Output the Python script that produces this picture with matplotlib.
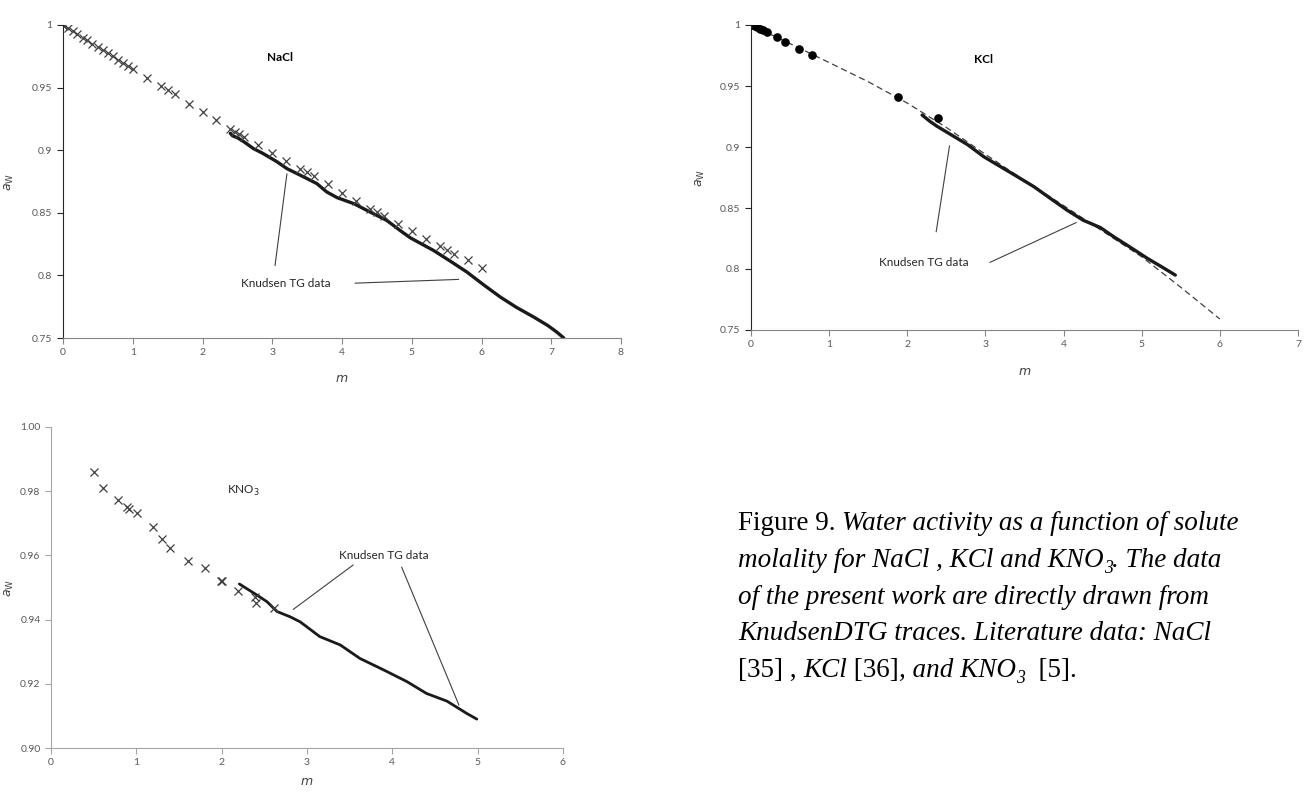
import numpy as np
import matplotlib
matplotlib.use('Agg')
import matplotlib.pyplot as plt
from matplotlib.ticker import FuncFormatter, MultipleLocator

# NaCl - literature (crosses) and Knudsen TG data
nacl_lit_m = [0.0, 0.005, 0.01, 0.07, 0.14, 0.2, 0.28, 0.35, 0.42, 0.5, 0.57, 0.64, 0.71,
              0.79, 0.86, 0.93, 1.0, 1.2, 1.4, 1.5, 1.6, 1.8, 2.0, 2.2, 2.4, 2.47, 2.53,
              2.6, 2.8, 3.0, 3.2, 3.4, 3.5, 3.6, 3.8, 4.0, 4.2, 4.4, 4.5, 4.6, 4.8, 5.0,
              5.2, 5.4, 5.5, 5.6, 5.8, 6.0]
nacl_lit_aw = [1.0, 0.9998, 0.9996, 0.9975, 0.995, 0.993, 0.990, 0.9877, 0.9852, 0.9824,
               0.980, 0.9775, 0.975, 0.9722, 0.9697, 0.9673, 0.9648, 0.9573, 0.9512,
               0.948, 0.9445, 0.9373, 0.9307, 0.924, 0.9173, 0.9147, 0.9126, 0.9107,
               0.904, 0.8979, 0.891, 0.8853, 0.8827, 0.8795, 0.8728, 0.8661, 0.8595,
               0.8533, 0.8507, 0.8475, 0.8413, 0.8355, 0.8293, 0.8232, 0.8205, 0.8173,
               0.812, 0.8058]
nacl_tg_m = [2.40, 2.43, 2.50, 2.60, 2.73, 2.87, 3.07, 3.21, 3.45, 3.64, 3.78, 3.93, 4.17,
             4.40, 4.64, 4.83, 4.98, 5.31, 5.55, 5.79, 6.03, 6.27, 6.50, 6.75, 6.95,
             7.08, 7.18]
nacl_tg_aw = [0.9135, 0.9115, 0.9100, 0.9065, 0.9013, 0.8973, 0.8907, 0.8853, 0.8787,
              0.8733, 0.8667, 0.8621, 0.8573, 0.8507, 0.8440, 0.8360, 0.8300, 0.8200,
              0.8115, 0.8027, 0.7925, 0.7827, 0.7745, 0.7667, 0.7600, 0.7547, 0.7500]

# KCl - literature (dots), fit (dashed) and Knudsen TG data
kcl_lit_m = [0.017, 0.05, 0.08, 0.115, 0.15, 0.2, 0.33, 0.436, 0.61, 0.786, 1.876, 2.39]
kcl_lit_aw = [1.0, 0.9992, 0.9981, 0.997, 0.9959, 0.994, 0.9902, 0.9863, 0.9806, 0.9754,
              0.9407, 0.9238]
kcl_fit_m = [0.0, 0.5, 1.0, 1.5, 2.0, 2.5, 3.0, 3.5, 4.0, 4.5, 5.0, 5.5, 6.0]
kcl_fit_aw = [1.0, 0.9847, 0.9692, 0.9535, 0.9360, 0.9160, 0.8940, 0.8726, 0.8520,
              0.8310, 0.8100, 0.7850, 0.7590]
kcl_tg_m = [2.19, 2.29, 2.38, 2.51, 2.64, 2.77, 2.98, 3.19, 3.40, 3.62, 3.85, 4.05, 4.25,
            4.47, 4.64, 4.85, 5.07, 5.25, 5.43]
kcl_tg_aw = [0.9262, 0.9210, 0.9170, 0.9120, 0.9070, 0.9020, 0.8920, 0.8840, 0.8760,
             0.8675, 0.8570, 0.8480, 0.8400, 0.8340, 0.8265, 0.8180, 0.8088, 0.8020,
             0.7950]

# KNO3 - literature (crosses) and Knudsen TG data
kno3_lit_m = [0.504, 0.606, 0.79, 0.887, 0.918, 1.004, 1.2, 1.30, 1.395, 1.61, 1.80, 1.99,
              2.0, 2.19, 2.39, 2.40, 2.61]
kno3_lit_aw = [0.9861, 0.9811, 0.9773, 0.9752, 0.9744, 0.9731, 0.9689, 0.9651, 0.9622,
               0.9582, 0.9562, 0.9521, 0.9520, 0.9490, 0.9471, 0.9451, 0.9435]
kno3_tg_m = [2.207, 2.41, 2.53, 2.65, 2.80, 2.92, 3.15, 3.39, 3.62, 3.90, 4.17, 4.40, 4.64,
             4.87, 4.99]
kno3_tg_aw = [0.9511, 0.9477, 0.9456, 0.9425, 0.9409, 0.9393, 0.9347, 0.9321, 0.9279,
              0.9243, 0.9207, 0.9170, 0.9146, 0.9108, 0.9090]

plt.rcParams['font.family'] = ['Lato', 'DejaVu Sans']

fig = plt.figure(figsize=(13.11, 7.99), dpi=100)
W, H = 1311.0, 799.0


def px_axes(l, t, r, b):
    return fig.add_axes([l / W, 1 - b / H, (r - l) / W, (b - t) / H])


def style_axes(ax, yspine, xspine):
    for s in ['top', 'right']:
        ax.spines[s].set_visible(False)
    ax.spines['left'].set_color(yspine)
    ax.spines['bottom'].set_color(xspine)
    ax.tick_params(axis='both', direction='out', length=4, width=0.8,
                   labelsize=7.5, labelcolor='#595959', color='#868686')
    ax.tick_params(axis='y', color=yspine)
    ax.xaxis.set_major_locator(MultipleLocator(1))
    ax.xaxis.set_major_formatter(FuncFormatter(lambda v, p: '%g' % v))


lab_kw = dict(fontsize=8.5, color='#262626', ha='center', va='center')
line_kw = dict(color='#404040', lw=0.8)

# ---- NaCl ----
ax1 = px_axes(63, 25, 621, 338)
style_axes(ax1, '#262626', '#868686')
ax1.plot(nacl_tg_m, nacl_tg_aw, color='#1a1a1a', lw=2.4, solid_capstyle='round')
ax1.plot(nacl_lit_m, nacl_lit_aw, 'x', color='#404040', ms=5.5, mew=0.9)
ax1.set_xlim(0, 8)
ax1.set_ylim(0.75, 1.0)
ax1.yaxis.set_major_locator(MultipleLocator(0.05))
ax1.yaxis.set_major_formatter(FuncFormatter(lambda v, p: '%g' % round(v, 2)))
ax1.text(3.11, 0.9744, 'NaCl', fontsize=8.5, fontweight='bold', ha='center', va='center')
ax1.text(3.2, 0.7936, 'Knudsen TG data', **lab_kw)
ax1.plot([3.04, 3.21], [0.808, 0.881], **line_kw)
ax1.plot([4.19, 5.67], [0.7938, 0.7968], **line_kw)
ax1.set_xlabel('$m$', fontsize=9, color='#404040')
ax1.set_ylabel(r'$a_{\mathrm{W}}$', fontsize=9, color='#404040')
ax1.xaxis.set_label_coords(0.5, -0.11)
ax1.yaxis.set_label_coords(-0.084, 0.5)

# ---- KCl ----
ax2 = px_axes(751, 25, 1298, 330)
style_axes(ax2, '#262626', '#868686')
ax2.plot(kcl_fit_m, kcl_fit_aw, color='#404040', lw=0.9, dashes=(5, 3))
ax2.plot(kcl_tg_m, kcl_tg_aw, color='#1a1a1a', lw=2.4, solid_capstyle='round')
ax2.plot(kcl_lit_m, kcl_lit_aw, 'o', color='black', ms=5.2)
ax2.set_xlim(0, 7)
ax2.set_ylim(0.75, 1.0)
ax2.yaxis.set_major_locator(MultipleLocator(0.05))
ax2.yaxis.set_major_formatter(FuncFormatter(lambda v, p: '%g' % round(v, 2)))
ax2.text(2.98, 0.9721, 'KCl', fontsize=8.5, fontweight='bold', ha='center', va='center')
ax2.text(2.21, 0.8057, 'Knudsen TG data', **lab_kw)
ax2.plot([2.37, 2.54], [0.8306, 0.9008], **line_kw)
ax2.plot([3.06, 4.16], [0.8055, 0.838], **line_kw)
ax2.set_xlabel('$m$', fontsize=9, color='#404040')
ax2.set_ylabel(r'$a_{\mathrm{W}}$', fontsize=9, color='#404040')
ax2.xaxis.set_label_coords(0.5, -0.115)
ax2.yaxis.set_label_coords(-0.08, 0.5)

# ---- KNO3 ----
ax3 = px_axes(51, 427, 563, 748)
style_axes(ax3, '#a6a6a6', '#a6a6a6')
ax3.tick_params(axis='both', color='#a6a6a6')
ax3.plot(kno3_tg_m, kno3_tg_aw, color='#1a1a1a', lw=2.0, solid_capstyle='round')
ax3.plot(kno3_lit_m, kno3_lit_aw, 'x', color='#404040', ms=5.5, mew=0.9)
ax3.set_xlim(0, 6)
ax3.set_ylim(0.90, 1.00)
ax3.yaxis.set_major_locator(MultipleLocator(0.02))
ax3.yaxis.set_major_formatter(FuncFormatter(lambda v, p: '%.2f' % v))
ax3.text(2.25, 0.9802, 'KNO$_3$', fontsize=8.5, color='#262626', ha='center', va='center')
ax3.text(3.90, 0.9601, 'Knudsen TG data', **lab_kw)
ax3.plot([3.54, 2.84], [0.957, 0.9432], **line_kw)
ax3.plot([4.11, 4.78], [0.9563, 0.9134], **line_kw)
ax3.set_xlabel('$m$', fontsize=9, color='#404040')
ax3.set_ylabel(r'$a_{\mathrm{W}}$', fontsize=9, color='#404040')
ax3.xaxis.set_label_coords(0.5, -0.085)
ax3.yaxis.set_label_coords(-0.068, 0.5)

# ---- caption (mixed upright / italic pieces) ----
fs = 19.5
renderer = fig.canvas.get_renderer()


def put_line(x, y, parts):
    for s, st, sub in parts:
        size = fs * 0.65 if sub else fs
        yy = y - (6 / H if sub else 0)
        t = fig.text(x, yy, s, fontsize=size, style=st, family='Liberation Serif',
                     va='baseline', ha='left', color='black')
        x += t.get_window_extent(renderer=renderer).width / W


x0 = 738 / W
put_line(x0, 1 - 530 / H, [('Figure 9. ', 'normal', False),
                           ('Water activity as a function of solute', 'italic', False)])
put_line(x0, 1 - 567 / H, [('molality for NaCl , KCl and KNO', 'italic', False),
                           ('3', 'italic', True),
                           ('. The data', 'italic', False)])
put_line(x0, 1 - 604 / H, [('of the present work are directly drawn from', 'italic', False)])
put_line(x0, 1 - 640 / H, [('KnudsenDTG traces. Literature data: NaCl', 'italic', False)])
put_line(x0, 1 - 677 / H, [('[35] , ', 'normal', False), ('KCl', 'italic', False),
                           (' [36]', 'normal', False), (', and KNO', 'italic', False),
                           ('3', 'italic', True), ('  [5].', 'normal', False)])

fig.savefig('out.png', dpi=100)
